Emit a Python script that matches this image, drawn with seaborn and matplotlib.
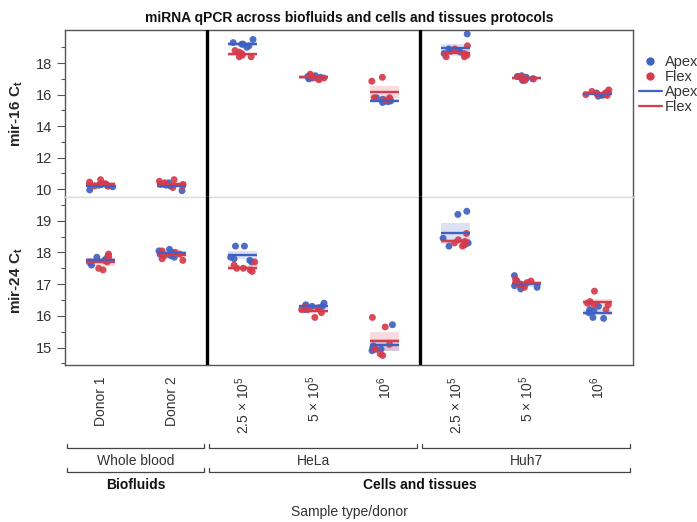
import numpy as np
import pandas as pd
import matplotlib
matplotlib.use("Agg")
import matplotlib.pyplot as plt
import matplotlib.transforms as mtransforms
from matplotlib.lines import Line2D
import seaborn as sns

# ---------------- data ----------------
samples = ["Donor 1", "Donor 2", "HeLa 2.5e5", "HeLa 5e5", "HeLa 1e6",
           "Huh7 2.5e5", "Huh7 5e5", "Huh7 1e6"]
tick_labels = ["Donor 1", "Donor 2", "2.5 × 10$^5$", "5 × 10$^5$", "10$^6$",
               "2.5 × 10$^5$", "5 × 10$^5$", "10$^6$"]
cell_groups = ["Whole blood", "HeLa", "Huh7"]
cell_group_sizes = [2, 3, 3]
sample_types = ["Biofluids", "Cells and tissues"]
sample_type_sizes = [2, 6]
protocols = ["Apex", "Flex"]

mir16_apex = [
    [9.95, 10.2, 10.25, 10.3, 10.15, 10.3],
    [10.4, 10.3, 10.25, 9.9, 10.3, 10.2],
    [19.5, 19.3, 19.2, 19.1, 19.0, 19.2],
    [17.1, 17.0, 17.2, 17.15, 17.05, 17.1],
    [15.8, 15.6, 15.5, 15.7, 15.55, 15.6],
    [19.85, 18.7, 18.6, 18.75, 18.8, 18.9],
    [17.2, 16.95, 17.0, 17.1, 17.15, 16.9],
    [16.0, 15.9, 16.1, 16.0, 16.15, 15.95],
]
mir16_flex = [
    [10.6, 10.45, 10.2, 10.3, 10.35, 10.2],
    [10.2, 10.5, 10.6, 10.3, 10.4, 10.1],
    [18.8, 18.5, 18.4, 18.6, 18.7, 18.4],
    [17.0, 17.3, 17.1, 16.95, 17.2, 17.05],
    [17.1, 16.85, 15.8, 15.7, 15.65, 15.8],
    [19.1, 18.5, 18.4, 18.9, 18.6, 18.4],
    [17.0, 17.1, 17.15, 16.9, 17.05, 17.0],
    [16.1, 16.3, 16.0, 15.95, 16.2, 16.05],
]
mir24_apex = [
    [17.9, 17.8, 17.6, 17.75, 17.7, 17.85],
    [18.05, 18.1, 17.9, 17.95, 18.0, 17.85],
    [18.2, 18.2, 17.8, 17.75, 17.7, 17.85],
    [16.4, 16.35, 16.3, 16.25, 16.3, 16.2],
    [15.72, 15.0, 14.9, 14.95, 15.05, 14.95],
    [19.2, 19.3, 18.3, 18.2, 18.45, 18.25],
    [17.27, 16.85, 17.0, 17.1, 16.9, 16.95],
    [16.3, 15.95, 15.92, 16.1, 16.2, 16.15],
]
mir24_flex = [
    [17.95, 17.5, 17.45, 17.75, 17.85, 17.7],
    [17.95, 17.75, 17.8, 17.9, 18.0, 18.05],
    [17.5, 17.45, 17.7, 17.5, 17.6, 17.4],
    [16.25, 16.1, 15.95, 16.3, 16.2, 16.2],
    [15.95, 15.65, 15.1, 14.75, 14.95, 14.8],
    [18.6, 18.3, 18.2, 18.35, 18.4, 18.25],
    [17.1, 17.15, 16.95, 16.9, 17.0, 17.05],
    [16.78, 16.45, 16.35, 16.2, 16.4, 16.35],
]

def to_frame(apex, flex):
    rows = []
    for s, a, f in zip(samples, apex, flex):
        rows += [(s, "Apex", v) for v in a]
        rows += [(s, "Flex", v) for v in f]
    return pd.DataFrame(rows, columns=["sample", "protocol", "ct"])

df16 = to_frame(mir16_apex, mir16_flex)
df24 = to_frame(mir24_apex, mir24_flex)

# ---------------- style ----------------
sns.set_style("white")
plt.rcParams["font.family"] = ["Liberation Sans", "DejaVu Sans"]
plt.rcParams["mathtext.fontset"] = "custom"
plt.rcParams["mathtext.rm"] = "Liberation Sans"
plt.rcParams["mathtext.it"] = "Liberation Sans:italic"
plt.rcParams["mathtext.bf"] = "Liberation Sans:bold"

palette = {"Apex": "#3f62c2", "Flex": "#d63b4c"}
frame_col = "#555555"
sep_col = "#dddddd"
txt_col = "#333333"

np.random.seed(7)

fig = plt.figure(figsize=(6.97, 5.22), dpi=100)
ax1 = fig.add_axes([0.0933, 0.6226, 0.815, 0.3199])
ax2 = fig.add_axes([0.0933, 0.3008, 0.815, 0.3218])

half = 0.2
for ax, df in [(ax1, df16), (ax2, df24)]:
    stats = df.groupby(["sample", "protocol"])["ct"].agg(["mean", "std", "count"])
    for i, s in enumerate(samples):
        for p in protocols:
            m = stats.loc[(s, p), "mean"]
            se = stats.loc[(s, p), "std"] / np.sqrt(stats.loc[(s, p), "count"])
            ax.fill_between([i - half, i + half], m - 1.5 * se, m + 1.5 * se,
                            color=palette[p], alpha=0.18, lw=0, zorder=1)
    sns.stripplot(data=df, x="sample", y="ct", hue="protocol", order=samples,
                  hue_order=protocols, palette=palette, jitter=0.18, size=5,
                  linewidth=0, alpha=0.92, legend=False, ax=ax, zorder=2)
    for i, s in enumerate(samples):
        for p in protocols:
            m = stats.loc[(s, p), "mean"]
            ax.hlines(m, i - half, i + half, color=palette[p], lw=1.7, zorder=4)
    for xv in [sum(cell_group_sizes[:1]) - 0.5, sum(cell_group_sizes[:2]) - 0.5]:
        ax.axvline(xv, color="black", lw=2.4, zorder=5)
    ax.set_xlim(-0.5, len(samples) - 0.5)
    ax.set_xlabel("")
    for sp in ["left", "right", "top", "bottom"]:
        ax.spines[sp].set_color(frame_col)
        ax.spines[sp].set_linewidth(1.0)
    ax.tick_params(axis="y", which="major", length=6, width=0.8, color=frame_col,
                   labelsize=10.5, labelcolor=txt_col, left=True, pad=3)
    ax.tick_params(axis="y", which="minor", length=3, width=0.8, color=frame_col, left=True)
    ax.tick_params(axis="x", length=0)

ax1.spines["bottom"].set_color(sep_col)
ax2.spines["top"].set_color(sep_col)

ax1.set_ylim(9.5, 20.1)
ax1.set_yticks([10, 12, 14, 16, 18])
ax1.set_yticks([11, 13, 15, 17, 19], minor=True)
ax1.set_xticks(range(len(samples)))
ax1.set_xticklabels([])
ax1.set_ylabel(r"mir-16 C$_{\mathbf{t}}$", fontsize=11, fontweight="bold", labelpad=8)

ax2.set_ylim(14.45, 19.75)
ax2.set_yticks([15, 16, 17, 18, 19])
ax2.set_yticks([14.5, 15.5, 16.5, 17.5, 18.5, 19.5], minor=True)
ax2.set_xticks(range(len(samples)))
ax2.set_xticklabels(tick_labels, rotation=90, fontsize=10, color=txt_col)
ax2.tick_params(axis="x", pad=8)
ax2.set_ylabel(r"mir-24 C$_{\mathbf{t}}$", fontsize=11, fontweight="bold", labelpad=8)

fig.text(0.5007, 0.966, "miRNA qPCR across biofluids and cells and tissues protocols",
         ha="center", va="center", fontsize=10, fontweight="bold", color="#111111")

tr = mtransforms.blended_transform_factory(ax2.transData, fig.transFigure)

def bracket(x0, x1, yb, label, ly, bold=False):
    tick = 0.008
    ax2.plot([x0, x0, x1, x1], [yb + tick, yb, yb, yb + tick], transform=tr,
             color="#444444", lw=0.9, clip_on=False)
    ax2.text((x0 + x1) / 2, ly, label, transform=tr, ha="center", va="center",
             fontsize=10, color="#111111" if bold else txt_col,
             fontweight="bold" if bold else "normal")

start = 0
for g, n in zip(cell_groups, cell_group_sizes):
    bracket(start - 0.5 + 0.03, start + n - 0.5 - 0.04, 1 - 448 / 522, g, 1 - 461 / 522)
    start += n
start = 0
for g, n in zip(sample_types, sample_type_sizes):
    bracket(start - 0.5 + 0.03, start + n - 0.5 - 0.04, 1 - 472 / 522, g, 1 - 485 / 522, bold=True)
    start += n

fig.text(0.5007, 1 - 512 / 522, "Sample type/donor", ha="center", va="center",
         fontsize=10, color=txt_col)

handles = [
    Line2D([], [], marker="o", ls="", color=palette["Apex"], markersize=5, label="Apex"),
    Line2D([], [], marker="o", ls="", color=palette["Flex"], markersize=5, label="Flex"),
    Line2D([], [], color=palette["Apex"], lw=1.6, label="Apex"),
    Line2D([], [], color=palette["Flex"], lw=1.6, label="Flex"),
]
leg = fig.legend(handles=handles, loc="upper left", bbox_to_anchor=(0.908, 0.905),
                 frameon=False, fontsize=10.5, handlelength=1.6, handletextpad=0.2,
                 labelspacing=0.05, borderaxespad=0)
for t in leg.get_texts():
    t.set_color(txt_col)

fig.savefig("out.png", dpi=100)
